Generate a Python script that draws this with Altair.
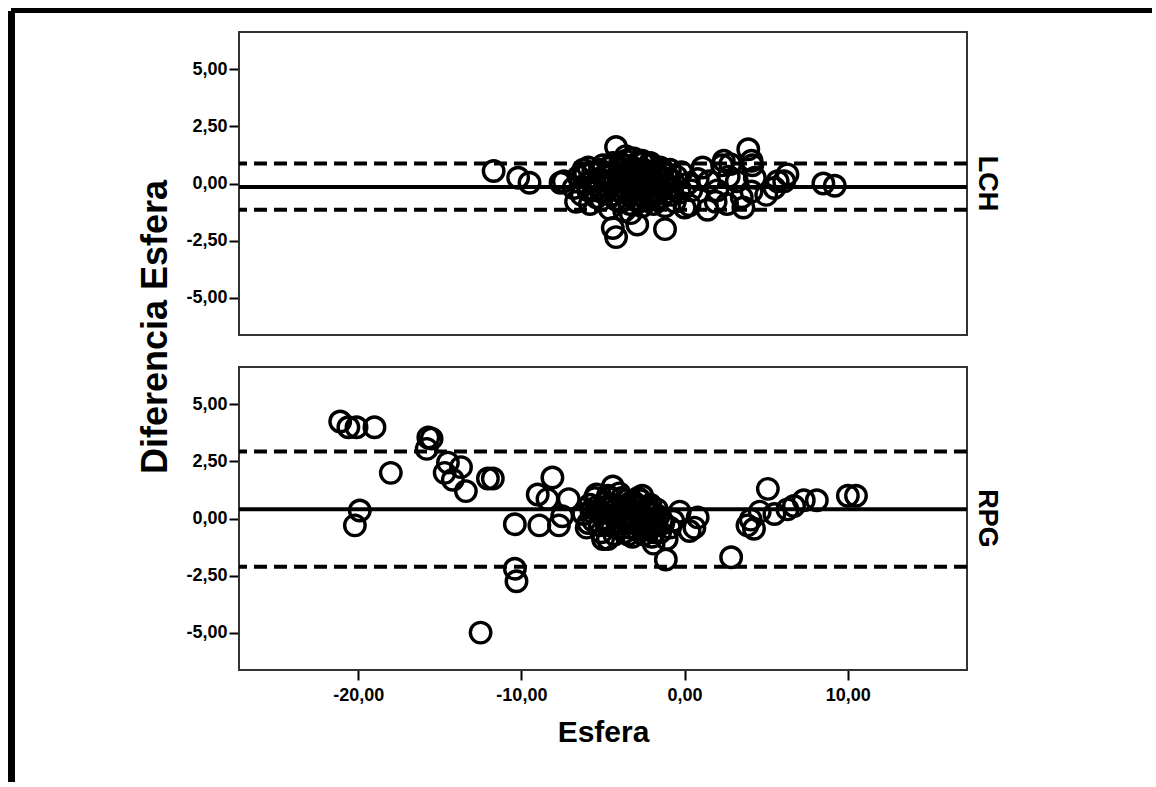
import altair as alt
import pandas as pd

# ---- data ----
lch_x = [-11.7, -10.2, -9.5, -7.6, -7.4, -6.65, -6.1, -5.9, -4.2, -4.4, -4.2, -2.9, -1.2, 0.0, 0.3,
         1.1, 1.4, 1.5, 2.4, 2.8, 2.3, 3.9, 4.1, 4.15, 3.6, 2.6, 4.3, 4.1, 5.5, 6.1, 6.3, 5.7, 8.5, 9.2,
         3.5, 2.0, 2.7, 5.0, 0.8, 1.9, 3.2,
         -6.8, -6.5, -6.3, -6.0, -5.8, -5.6, -5.5, -5.3, -5.1, -5.0, -4.9, -4.7, -4.6, -4.5, -4.4, -4.3,
         -4.1, -4.0, -3.9, -3.8, -3.7, -3.6, -3.5, -3.4, -3.3, -3.2, -3.1, -3.0, -2.9, -2.8, -2.7, -2.6,
         -2.5, -2.4, -2.3, -2.2, -2.1, -2.0, -1.9, -1.8, -1.7, -1.6, -1.5, -1.4, -1.3, -1.2, -1.1, -1.0,
         -0.9, -0.8, -0.7, -0.6, -0.5, -0.3, -0.2, 0.2, 0.4,
         -6.2, -5.9, -5.7, -5.4, -5.2, -4.8, -4.5, -4.2, -3.95, -3.75, -3.55, -3.35, -3.15, -2.95,
         -2.75, -2.55, -2.35, -2.15, -1.95, -1.75, -1.55, -1.35, -1.15, -0.95, -0.75, -4.6, -4.0,
         -3.4, -2.8, -2.2, -1.6, -5.0, -3.7, -3.0, -2.4, -1.8,
         -3.6, -3.1, -2.6, -2.1, -3.3]
lch_y = [0.55, 0.25, 0.03, 0.03, 0.1, -0.8, 0.4, 0.7, 1.6, -1.95, -2.35, -1.8, -2.0, -1.05, -0.95,
         0.7, -1.15, 0.1, 1.0, 0.85, 0.8, 1.5, 1.0, 0.8, -1.05, -0.9, 0.25, -0.35, -0.2, 0.1, 0.4, 0.1, 0.0, -0.1,
         -0.6, -0.3, 0.3, -0.5, 0.2, -0.8, 0.1,
         -0.2, 0.3, -0.5, 0.0, -0.9, 0.5, -0.3, 0.2, -0.7, 0.8, -0.1, 0.4, -1.1, -0.5, 0.9, 0.1,
         -0.3, 0.6, -0.8, 0.2, -1.2, 1.0, -0.4, 0.4, -0.1, 0.7, -0.7, 0.0, 0.9, -0.5, 0.3, -1.0,
         0.6, -0.2, 0.1, 0.8, -0.6, 0.3, -0.9, 0.5, -0.3, 0.0, 0.7, -0.6, 0.2, -1.0, 0.4, -0.2,
         0.6, -0.5, 0.1, -0.8, 0.3, -0.4, 0.5, 0.0, -0.3,
         0.6, -0.3, 0.1, -0.6, 0.6, 0.3, 0.0, -0.7, 0.9, -0.4, 0.3, -0.9, 0.5, 0.2,
         -0.2, 0.9, -0.7, 0.4, 0.0, -0.7, -0.1, 0.6, -0.4, 0.2, -0.2, 0.7, -0.1,
         0.6, -0.8, -0.2, 0.4, -0.4, 0.8, -0.3, 0.5, -0.5,
         1.2, 1.1, 1.0, 0.9, -1.3]

rpg_x = [-21.1, -20.6, -20.1, -19.0, -18.0, -19.9, -20.2, -15.7, -15.5, -15.8, -14.5, -13.7, -14.7, -14.2,
         -13.4, -12.05, -11.75, -10.4, -10.4, -10.3, -12.5, -8.1, -9.0, -8.4, -8.9, -7.7, -7.5, -7.1,
         -4.4, -5.4, -4.7, -2.6, -0.3, 0.8, 0.3, -1.15, 2.85, 5.1, 4.05, 3.85, 4.25, 5.5, 6.7, 7.3, 8.1,
         10.0, 10.5, 6.3, 4.6, -1.9, 0.6,
         -6.2, -6.0, -5.8, -5.6, -5.5, -5.3, -5.1, -5.0, -4.8, -4.7, -4.6, -4.4, -4.3, -4.2, -4.0, -3.9,
         -3.8, -3.7, -3.6, -3.5, -3.4, -3.3, -3.2, -3.1, -3.0, -2.9, -2.8, -2.7, -2.6, -2.5, -2.4, -2.3,
         -2.2, -2.1, -2.0, -1.9, -1.8, -1.6, -1.5, -1.3, -1.1, -0.9, -0.7,
         -5.9, -5.7, -5.4, -5.2, -4.9, -4.5, -4.1, -3.85, -3.65, -3.45, -3.25, -3.05, -2.85, -2.65,
         -2.45, -2.25, -2.05, -1.85, -1.7, -1.4, -4.6, -3.9, -3.3, -2.7, -2.1, -5.0, -4.2, -3.5, -2.9]
rpg_y = [4.25, 4.0, 4.0, 4.0, 2.0, 0.35, -0.3, 3.55, 3.5, 3.05, 2.45, 2.25, 2.0, 1.7,
         1.2, 1.75, 1.75, -0.25, -2.2, -2.75, -5.0, 1.8, 1.05, 0.85, -0.3, -0.3, 0.1, 0.85,
         1.4, 1.05, -0.9, 1.0, 0.3, 0.05, -0.55, -1.8, -1.7, 1.3, -0.05, -0.3, -0.45, 0.2, 0.55, 0.8, 0.8,
         1.0, 1.0, 0.4, 0.3, -1.1, -0.4,
         0.2, -0.4, 0.6, -0.1, 0.9, 0.3, -0.6, 0.5, 0.0, 1.0, -0.3, 0.6, -0.7, 0.2, 1.1, -0.2,
         0.5, -0.6, 0.8, 0.1, -0.4, 0.4, -0.8, 0.7, 0.0, -0.5, 0.3, 0.8, -0.2, -0.7, 0.4, 0.0,
         -0.4, 0.6, -0.8, 0.2, -0.3, 0.1, -0.6, -0.2, -0.9, -0.4, -0.1,
         -0.2, 0.3, 0.5, -0.3, 0.7, 0.3, -0.4, 0.9, 0.2, -0.7, 0.6, -0.1, 0.9, 0.2,
         -0.5, 0.5, -0.1, -0.6, 0.4, -0.1, 0.9, 0.0, 0.7, -0.4, -0.2, -0.9, 0.4, -0.2, 0.5]

grupos = ["LCH", "RPG"]
media = [-0.15, 0.41]
limite_sup = [0.88, 2.94]
limite_inf = [-1.15, -2.12]

x_ticks = [-20, -10, 0, 10]
y_ticks = [-5, -2.5, 0, 2.5, 5]
y_title = "Diferencia Esfera"

assert len(lch_x) == len(lch_y) and len(rpg_x) == len(rpg_y)

# ---- table ----
rows = []
for g, xs, ys in (("LCH", lch_x, lch_y), ("RPG", rpg_x, rpg_y)):
    i = grupos.index(g)
    for a, b in zip(xs, ys):
        rows.append({"grupo": g, "esfera": a, "dif": b, "media": media[i],
                     "sup": limite_sup[i], "inf": limite_inf[i]})
df = pd.DataFrame(rows)

FONT = "Liberation Sans"
fmt = "replace(replace(format(datum.value, '.2f'), '.', ','), '\u2212', '-')"
x_scale = alt.Scale(domain=[-27.3, 17.3], nice=False, zero=False)
y_scale = alt.Scale(domain=[-6.64, 6.64], nice=False, zero=False)
y_axis = alt.Axis(title=None, values=y_ticks, labelExpr=fmt, grid=False, domain=False,
                  tickSize=10, tickWidth=2, tickColor="black", labelPadding=2,
                  labelFont=FONT, labelFontSize=18, labelFontWeight="bold", labelColor="black")
x_axis = alt.Axis(title="Esfera", values=x_ticks, labelExpr=fmt, grid=False, domain=False,
                  tickSize=10, tickWidth=2, tickColor="black", labelPadding=6,
                  labelFont=FONT, labelFontSize=18, labelFontWeight="bold", labelColor="black",
                  titleFont=FONT, titleFontSize=30, titleFontWeight="bold", titleColor="black",
                  titlePadding=13)

base = alt.Chart(df)

points = base.mark_point(shape="circle", filled=False, size=420, strokeWidth=3.4,
                         color="black", opacity=1).encode(
    x=alt.X("esfera:Q", scale=x_scale, axis=x_axis),
    y=alt.Y("dif:Q", scale=y_scale, axis=y_axis),
)

mean_rule = base.mark_rule(color="black", strokeWidth=4).encode(
    y=alt.Y("mean(media):Q", scale=y_scale, axis=y_axis))
sup_rule = base.mark_rule(color="black", strokeWidth=4, strokeDash=[13, 7]).encode(
    y=alt.Y("mean(sup):Q", scale=y_scale, axis=y_axis))
inf_rule = base.mark_rule(color="black", strokeWidth=4, strokeDash=[13, 7]).encode(
    y=alt.Y("mean(inf):Q", scale=y_scale, axis=y_axis))

# decorations drawn once (top panel only): outer black frame and the shared y title
deco_src = base.transform_filter(alt.datum.grupo == "LCH").transform_aggregate(
    n="count()", groupby=["grupo"])
frame_top = deco_src.mark_rule(color="black", strokeWidth=5).encode(
    x=alt.value(-228), x2=alt.value(913), y=alt.value(-21.5))
frame_left = deco_src.mark_rule(color="black", strokeWidth=7).encode(
    x=alt.value(-227.5), y=alt.value(-21), y2=alt.value(750))
title_y = deco_src.mark_text(angle=270, font=FONT, fontSize=36, fontWeight="bold",
                             color="black", align="center", baseline="middle").encode(
    x=alt.value(-83), y=alt.value(295), text=alt.value(y_title))

layered = alt.layer(points, mean_rule, sup_rule, inf_rule, frame_top, frame_left, title_y).properties(
    width=728, height=303)

chart = layered.facet(
    row=alt.Row("grupo:N", sort=grupos, title=None,
                header=alt.Header(labelOrient="right", labelAngle=90, labelFont=FONT,
                                  labelFontSize=27, labelFontWeight="bold", labelColor="black",
                                  labelPadding=6)),
    spacing=32,
    bounds="flush",
).properties(
    padding={"left": 7, "top": 6, "right": 0, "bottom": 0},
    background="white",
).configure_view(stroke="#333333", strokeWidth=2)

chart.save("out.html", embed_options={"renderer": "svg", "actions": False})
